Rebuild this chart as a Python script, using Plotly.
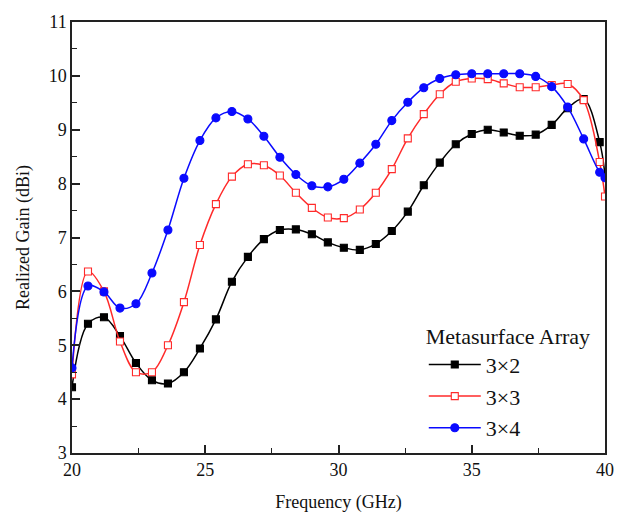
import plotly.graph_objects as go

freq = [20.0, 20.6, 21.2, 21.8, 22.4, 23.0, 23.6, 24.2, 24.8, 25.4, 26.0, 26.6,
        27.2, 27.8, 28.4, 29.0, 29.6, 30.2, 30.8, 31.4, 32.0, 32.6, 33.2, 33.8,
        34.4, 35.0, 35.6, 36.2, 36.8, 37.4, 38.0, 38.6, 39.2, 39.8, 40.0]

gain_3x2 = [4.22, 5.40, 5.52, 5.17, 4.67, 4.35, 4.29, 4.50, 4.94, 5.48, 6.18, 6.64,
            6.97, 7.14, 7.15, 7.06, 6.91, 6.81, 6.77, 6.88, 7.12, 7.48, 7.97, 8.39,
            8.73, 8.92, 9.00, 8.95, 8.89, 8.91, 9.09, 9.40, 9.57, 8.77, 8.15]

gain_3x3 = [4.46, 6.37, 6.00, 5.07, 4.50, 4.50, 5.00, 5.80, 6.86, 7.62, 8.13, 8.36,
            8.34, 8.15, 7.83, 7.55, 7.37, 7.36, 7.52, 7.83, 8.27, 8.84, 9.29, 9.66,
            9.89, 9.95, 9.94, 9.86, 9.79, 9.79, 9.83, 9.85, 9.55, 8.40, 7.76]

gain_3x4 = [4.58, 6.10, 5.99, 5.69, 5.77, 6.34, 7.14, 8.10, 8.80, 9.22, 9.34, 9.20,
            8.88, 8.49, 8.17, 7.96, 7.94, 8.08, 8.38, 8.73, 9.17, 9.51, 9.78, 9.95,
            10.02, 10.04, 10.04, 10.04, 10.04, 9.99, 9.80, 9.42, 8.83, 8.21, 8.11]

series_names = ["3×2", "3×3", "3×4"]
x_ticks = [20, 25, 30, 35, 40]
y_ticks = [3, 4, 5, 6, 7, 8, 9, 10, 11]

FONT = "Times New Roman, Liberation Serif, serif"

fig = go.Figure()
styles = [
    dict(color="#000000", symbol="square", fill="#000000", size=7),
    dict(color="#ff2a2a", symbol="square", fill="#ffffff", size=7),
    dict(color="#0a0aff", symbol="circle", fill="#0a0aff", size=8),
]
for i, (name, ys) in enumerate(zip(series_names, [gain_3x2, gain_3x3, gain_3x4])):
    s = styles[i]
    fig.add_trace(go.Scatter(
        x=freq, y=ys, name=name, mode="lines+markers",
        legendgroup=f"g{i}",
        line=dict(color=s["color"], width=1.5, shape="spline", smoothing=1.0),
        marker=dict(symbol=s["symbol"], size=s["size"], color=s["fill"],
                    line=dict(color=s["color"], width=1.1)),
    ))

axis_common = dict(
    showline=True, linecolor="#222222", linewidth=1.5, mirror=True,
    ticks="inside", ticklen=8, tickwidth=1.5, tickcolor="#222222",
    showgrid=False, zeroline=False,
    tickfont=dict(family=FONT, size=18, color="#111111"),
)

fig.update_xaxes(
    range=[20, 40], tickvals=x_ticks,
    minor=dict(ticks="inside", ticklen=5, tickwidth=1.2, tickcolor="#222222", dtick=2.5, tick0=20),
    title=dict(text="Frequency (GHz)", font=dict(family=FONT, size=18, color="#111111"), standoff=16),
    **axis_common,
)
fig.update_yaxes(
    range=[3, 11], tickvals=y_ticks,
    minor=dict(ticks="inside", ticklen=5, tickwidth=1.2, tickcolor="#222222", dtick=0.5, tick0=3),
    title=dict(text="Realized Gain (dBi)", font=dict(family=FONT, size=18, color="#111111"), standoff=14),
    **axis_common,
)

fig.update_layout(
    width=629, height=523,
    margin=dict(l=72, r=24, t=16, b=70),
    paper_bgcolor="white", plot_bgcolor="white",
    showlegend=True,
    legend=dict(
        title=dict(text="Metasurface Array", font=dict(family=FONT, size=22, color="#111111")),
        font=dict(family=FONT, size=22, color="#111111"),
        x=0.66, y=0.32, xanchor="left", yanchor="top",
        bgcolor="rgba(0,0,0,0)", borderwidth=0,
        itemwidth=52,
        tracegroupgap=0,
    ),
)

fig.write_html("out.html")
